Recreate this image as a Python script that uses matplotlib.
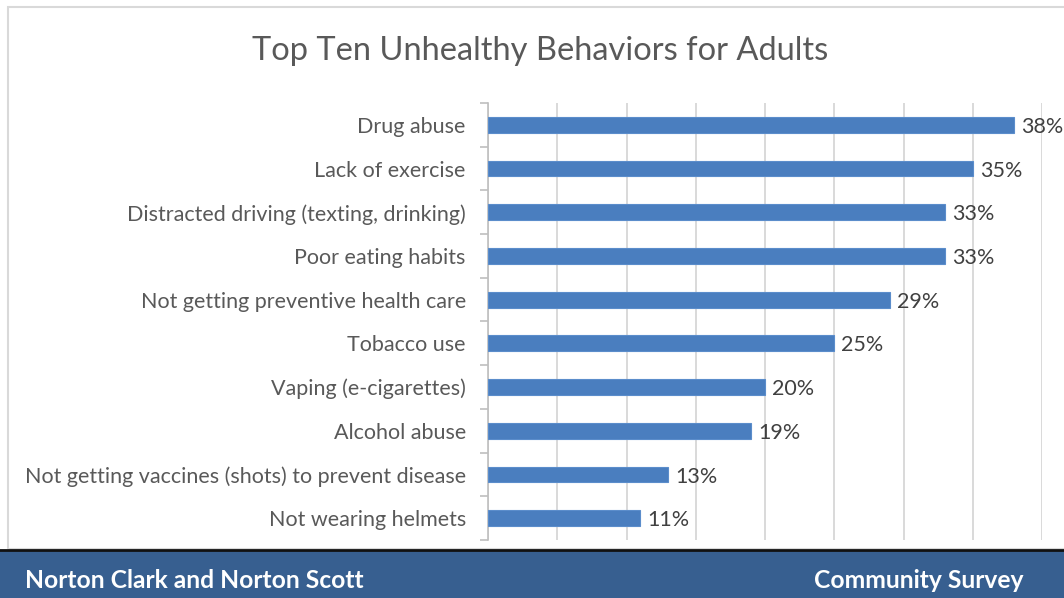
import matplotlib
matplotlib.use("Agg")
import matplotlib.pyplot as plt
from matplotlib.patches import Rectangle

# Survey results: share of respondents naming each behavior
behaviors = [
    "Drug abuse",
    "Lack of exercise",
    "Distracted driving (texting, drinking)",
    "Poor eating habits",
    "Not getting preventive health care",
    "Tobacco use",
    "Vaping (e-cigarettes)",
    "Alcohol abuse",
    "Not getting vaccines (shots) to prevent disease",
    "Not wearing helmets",
]
percent = [38, 35, 33, 33, 29, 25, 20, 19, 13, 11]
value_labels = [f"{v}%" for v in percent]

title = "Top Ten Unhealthy Behaviors for Adults"
footer_left = "Norton Clark and Norton Scott"
footer_right = "Community Survey"

W, H = 1064, 598
plt.rcParams["font.family"] = ["Lato", "DejaVu Sans"]

fig = plt.figure(figsize=(W / 100, H / 100), dpi=100)
fig.patch.set_facecolor("white")

# outer chart frame (thin light gray border running off the right edge)
frame = Rectangle((8 / W, 1 - 549 / H), 1.2, (549 - 7) / H,
                  transform=fig.transFigure, fill=False,
                  edgecolor="#D9D9D9", linewidth=1.5, zorder=0)
fig.patches.append(frame)

ax = fig.add_axes([488 / W, 1 - 540 / H, (1042 - 488) / W, (540 - 103) / H])
y = list(range(len(behaviors)))
ax.barh(y, percent, height=0.36, color="#4A7EBF", edgecolor="#5B8DCB",
        linewidth=0.8, zorder=3)
ax.set_ylim(len(behaviors) - 0.5, -0.5)
ax.set_xlim(0, 40)
ax.set_xticks(range(0, 41, 5))
ax.tick_params(axis="x", length=0, labelbottom=False)
ax.grid(axis="x", color="#D9D9D9", linewidth=1.4, zorder=0)

# category labels and boundary tick marks on the left spine
ax.set_yticks(y)
ax.set_yticklabels(behaviors, fontsize=15.5, color="#595959")
ax.tick_params(axis="y", which="major", length=0, pad=16)
ax.set_yticks([i - 0.5 for i in range(len(behaviors) + 1)], minor=True)
ax.tick_params(axis="y", which="minor", length=6, width=1.2, color="#BFBFBF",
               direction="out")

for side in ("top", "right", "bottom"):
    ax.spines[side].set_visible(False)
ax.spines["left"].set_color("#BFBFBF")
ax.spines["left"].set_linewidth(1.2)

for yi, v, lab in zip(y, percent, value_labels):
    ax.annotate(lab, (v, yi), xytext=(5, -1.5), textcoords="offset points",
                va="center", ha="left", fontsize=15.5, color="#404040",
                zorder=4, annotation_clip=False)

fig.text(540 / W, 1 - 51 / H, title, ha="center", va="center",
         fontsize=23.5, color="#595959")

# footer banner
banner = Rectangle((0, 0), 1, (H - 550) / H, transform=fig.transFigure,
                   facecolor="#375F90", edgecolor="none", zorder=1)
fig.patches.append(banner)
fig.add_artist(plt.Line2D([0, 1], [1 - 550 / H] * 2, transform=fig.transFigure,
                          color="#111111", linewidth=2, zorder=2))
fig.text(25 / W, 1 - 580 / H, footer_left, ha="left", va="center",
         fontsize=17.7, fontweight="bold", color="white", zorder=3)
fig.text(1024 / W, 1 - 580 / H, footer_right, ha="right", va="center",
         fontsize=17.7, fontweight="bold", color="white", zorder=3)

fig.savefig("out.png", dpi=100)
